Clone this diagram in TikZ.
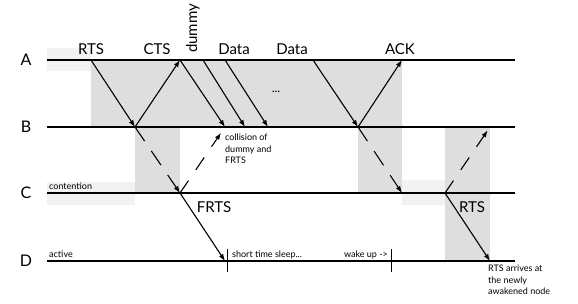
\documentclass[tikz,border=0pt]{standalone}
\usepackage{fontspec}
\setmainfont{Lato}
\usetikzlibrary{arrows.meta}
\begin{document}
\begin{tikzpicture}[x=1pt,y=-1pt,
    msg/.style={line width=1.1pt,-{Latex[length=7pt,width=5pt]}},
    lost/.style={msg,dash pattern=on 17pt off 12pt},
    axis/.style={line width=1.6pt},
    busy/.style={fill=black!13},
    faint/.style={fill=black!5},
    sig/.style={font=\fontsize{15}{15}\selectfont,anchor=base,inner sep=0pt},
    small/.style={font=\fontsize{9}{11.5}\selectfont,align=left,inner sep=0pt}]
  \useasboundingbox (0,0) rectangle (578,303);
  % shaded periods
  \fill[faint] (47,48) rectangle (91,71);
  \fill[faint] (47,182) rectangle (135,205);
  \fill[faint] (402,180) rectangle (445,205);
  \fill[busy] (91,60) rectangle (402,127);
  \fill[busy] (135,127) rectangle (180,193);
  \fill[busy] (358,127) rectangle (402,193);
  \fill[busy] (445,127) rectangle (490,261);
  % time lines
  \foreach \n/\y in {A/60,B/127,C/193,D/261} {
    \node[font=\fontsize{16}{16}\selectfont] (lbl\n) at (26,\y) {\n};
    \coordinate (\n0) at (47,\y);
    \coordinate (\n1) at (515,\y);
    \draw[axis] (\n0) -- (\n1);
  }
  % send and receive points
  \coordinate (rtsA) at (91,60);
  \coordinate (rtsB) at (135,127);
  \coordinate (ctsA) at (180,60);
  \coordinate (dumB) at (225,127);
  \coordinate (datOneA) at (203,60);
  \coordinate (datOneB) at (245,127);
  \coordinate (datTwoA) at (225,60);
  \coordinate (datTwoB) at (268,127);
  \coordinate (datLastA) at (313,60);
  \coordinate (datLastB) at (358,127);
  \coordinate (ackA) at (402,60);
  \coordinate (ackC) at (402,193);
  \coordinate (frtsC) at (180,193);
  \coordinate (frtsD) at (225,261);
  \coordinate (rtsC) at (445,193);
  \coordinate (rtsUp) at (490,127);
  \coordinate (rtsD) at (490,261);
  % messages
  \draw[msg] (rtsA) -- (rtsB);
  \draw[lost] (rtsB) -- (frtsC);
  \draw[msg] (rtsB) -- (ctsA);
  \draw[msg] (ctsA) -- (dumB);
  \draw[msg] (datOneA) -- (datOneB);
  \draw[msg] (datTwoA) -- (datTwoB);
  \draw[msg] (datLastA) -- (datLastB);
  \draw[msg] (datLastB) -- (ackA);
  \draw[lost] (datLastB) -- (ackC);
  \draw[lost,dash pattern=on 15pt off 13pt,shorten >=7pt] (frtsC) -- (dumB);
  \draw[msg] (frtsC) -- (frtsD);
  \draw[lost,dash pattern=on 15pt off 13pt,shorten >=4pt] (rtsC) -- (rtsUp);
  \draw[msg] (rtsC) -- (rtsD);
  % frame names
  \node[sig] (tRts) at (91,54) {RTS};
  \node[sig] (tCts) at (157,54) {CTS};
  \node[sig,rotate=90,anchor=base west] (tDummy) at (197,53) {dummy};
  \node[sig] (tDataOne) at (234,54) {Data};
  \node[sig] (tDataTwo) at (292,54) {Data};
  \node[sig] (tAck) at (400,54) {ACK};
  \node[sig] (tFrts) at (214,212) {FRTS};
  \node[sig] (tRtsTwo) at (472,212) {RTS};
  \node[font=\fontsize{12}{12}\selectfont] (dots) at (276,92) {...};
  % D sleeps and wakes
  \coordinate (sleepTop) at (227,249);
  \coordinate (sleepBot) at (227,272);
  \coordinate (wakeTop) at (391,249);
  \coordinate (wakeBot) at (391,272);
  \draw[line width=1pt] (sleepTop) -- (sleepBot);
  \draw[line width=1pt] (wakeTop) -- (wakeBot);
  % notes
  \node[small,anchor=base west] (nCont) at (49,189) {contention};
  \node[small,anchor=base west] (nAct) at (49,257) {active};
  \node[small,anchor=base west] (nSleep) at (232,257) {short time sleep...};
  \node[small,anchor=base east] (nWake) at (388,257) {wake up ->};
  \node[small,anchor=north west] (nColl) at (225,134) {collision of\\dummy and\\FRTS};
  \node[small,anchor=north west] (nArr) at (488,265) {RTS arrives at\\the newly\\awakened node};
\end{tikzpicture}
\end{document}
